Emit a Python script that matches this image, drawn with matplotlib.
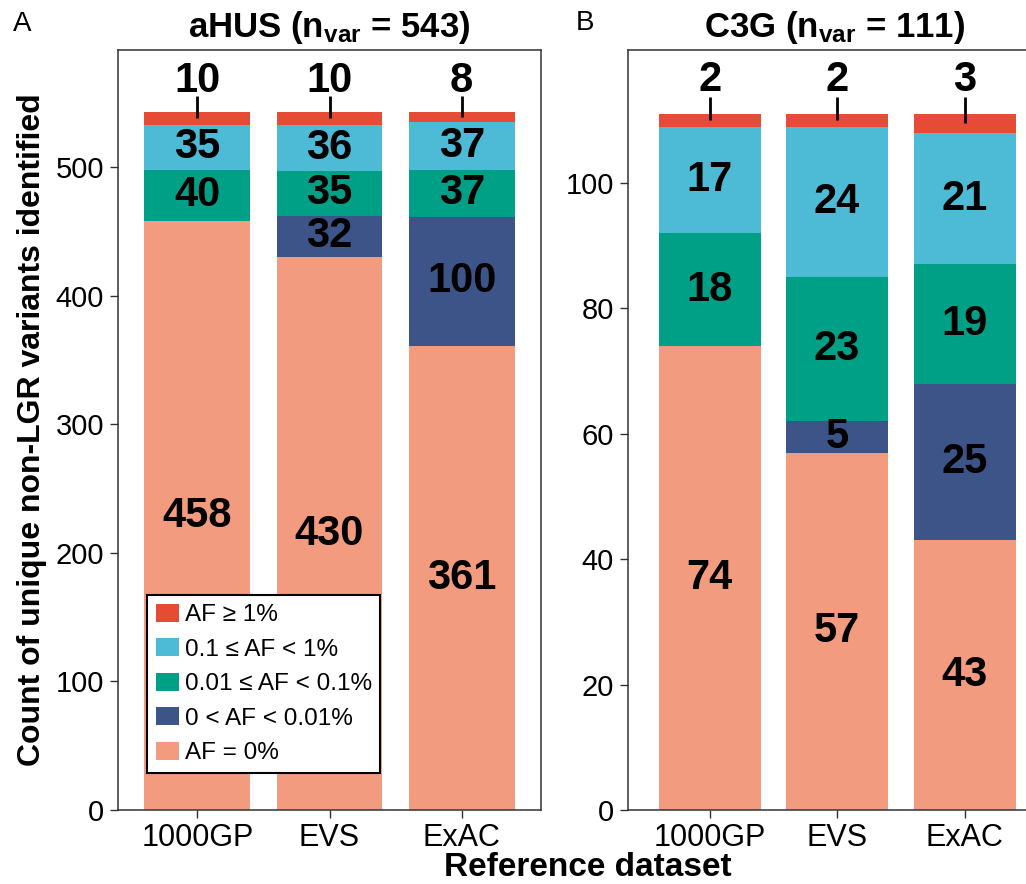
import matplotlib.pyplot as plt
import numpy as np

plt.rcParams['font.family'] = ['Liberation Sans', 'DejaVu Sans']
plt.rcParams['mathtext.default'] = 'regular'

datasets = ['1000GP', 'EVS', 'ExAC']
classes = ['AF = 0%', '0 < AF < 0.01%', '0.01 ≤ AF < 0.1%', '0.1 ≤ AF < 1%', 'AF ≥ 1%']
colors = ['#F39B7F', '#3C5488', '#00A087', '#4DBBD5', '#E64B35']

# counts per class (bottom to top), one list per dataset
ahus_1000gp = [458, 0, 40, 35, 10]
ahus_evs = [430, 32, 35, 36, 10]
ahus_exac = [361, 100, 37, 37, 8]

c3g_1000gp = [74, 0, 18, 17, 2]
c3g_evs = [57, 5, 23, 24, 2]
c3g_exac = [43, 25, 19, 21, 3]

ahus = np.array([ahus_1000gp, ahus_evs, ahus_exac])
c3g = np.array([c3g_1000gp, c3g_evs, c3g_exac])


def draw_panel(ax, counts, ymax, yticks, label_y, line_top, xmin):
    x = np.arange(len(datasets))
    bottom = np.zeros(len(datasets))
    for k in range(counts.shape[1]):
        vals = counts[:, k]
        ax.bar(x, vals, 0.8, bottom=bottom, color=colors[k], label=classes[k], linewidth=0)
        for i in range(len(datasets)):
            if vals[i] == 0:
                continue
            mid = bottom[i] + vals[i] / 2
            if k == counts.shape[1] - 1:
                # top class: label above the bar with a short line
                ax.plot([x[i], x[i]], [mid, line_top], color='black', lw=2, solid_capstyle='butt')
                ax.text(x[i], label_y, str(vals[i]), ha='center', va='center',
                        fontsize=30, fontweight='bold')
            else:
                ax.text(x[i], mid, str(vals[i]), ha='center', va='center',
                        fontsize=30, fontweight='bold')
        bottom = bottom + vals

    ax.set_xlim(xmin, 2.6)
    ax.set_ylim(0, ymax)
    ax.set_xticks(x)
    ax.set_xticklabels(datasets)
    ax.set_yticks(yticks)
    ax.tick_params(axis='x', labelsize=22, length=6, width=1, color='#333333', pad=3)
    ax.tick_params(axis='y', labelsize=21, length=6, width=1, color='#333333', pad=4)
    for s in ax.spines.values():
        s.set_color('#333333')
        s.set_linewidth(1.1)


fig = plt.figure(figsize=(10.26, 8.84), dpi=100)
ax1 = fig.add_axes([118 / 1026, 74 / 884, 423 / 1026, 760 / 884])
ax2 = fig.add_axes([628 / 1026, 74 / 884, 413 / 1026, 760 / 884])

draw_panel(ax1, ahus, 591, [0, 100, 200, 300, 400, 500], 567, 555.5, -0.6)
draw_panel(ax2, c3g, 121.2, [0, 20, 40, 60, 80, 100], 116.4, 113.7, -0.64)

ax1.set_title('aHUS (n$_{var}$ = 543)', fontsize=25, fontweight='bold', pad=9)
ax2.set_title('C3G (n$_{var}$ = 111)', fontsize=25, fontweight='bold', pad=9)

ax1.set_ylabel('Count of unique non-LGR variants identified', fontsize=23, fontweight='bold',
               labelpad=6)
fig.text(588 / 1026, 1 / 884, 'Reference dataset', ha='center', va='bottom',
         fontsize=24, fontweight='bold')

fig.text(13 / 1026, 1 - 24 / 884, 'A', fontsize=20, va='center')
fig.text(576 / 1026, 1 - 23 / 884, 'B', fontsize=20, va='center')

handles, labels = ax1.get_legend_handles_labels()
leg = ax1.legend(handles[::-1], labels[::-1], loc='lower left', bbox_to_anchor=(0.069, 0.049),
                 fontsize=17.5, frameon=True, fancybox=False, edgecolor='black',
                 framealpha=1, facecolor='white',
                 handlelength=0.95, handleheight=0.75, handletextpad=0.25,
                 labelspacing=0.5, borderpad=0.35, borderaxespad=0)
leg.get_frame().set_linewidth(1.5)

fig.savefig('out.png', dpi=100)
